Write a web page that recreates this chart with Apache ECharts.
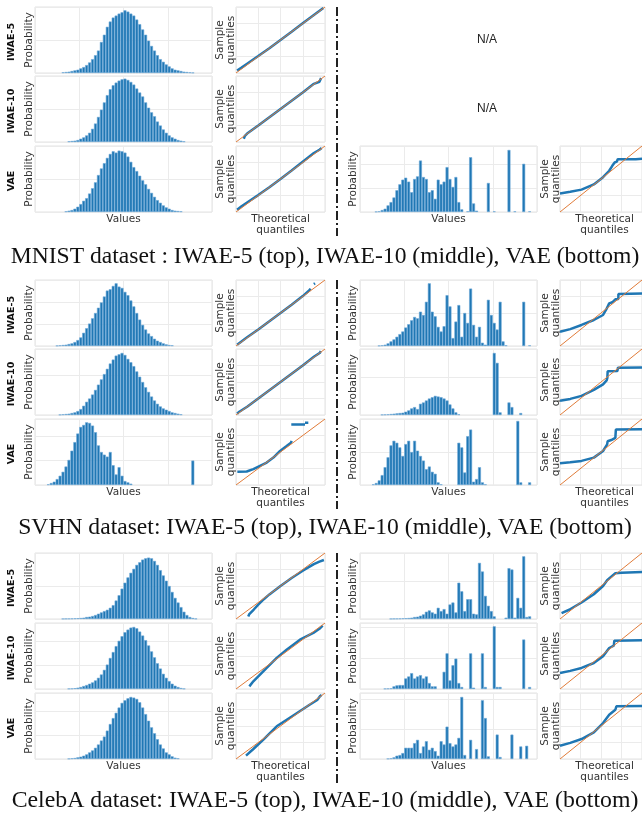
<!DOCTYPE html>
<html>
<head>
<meta charset="utf-8">
<script src="https://cdn.jsdelivr.net/npm/echarts@6/dist/echarts.min.js"></script>
<style>
  html, body { margin: 0; padding: 0; background: #fff; }
  #main { width: 642px; height: 820px; }
</style>
</head>
<body>
<div id="main"></div>
<script>
// ---- data: histogram heights (60 bins, fraction of panel height) ----
const mnistIwae5Hist = [0,0,0,0,0,0,0,0,0,0.01,0.015,0.02,0.03,0.04,0.05,0.07,0.09,0.12,0.16,0.21,0.27,0.34,0.47,0.58,0.7,0.78,0.84,0.87,0.9,0.92,0.95,0.93,0.9,0.87,0.81,0.74,0.66,0.58,0.49,0.41,0.34,0.27,0.21,0.17,0.13,0.1,0.07,0.05,0.04,0.03,0.02,0.015,0.01,0.005]
const mnistIwae10Hist = [0,0,0,0,0,0,0,0,0,0,0,0.01,0.015,0.02,0.03,0.05,0.07,0.1,0.14,0.2,0.28,0.38,0.49,0.6,0.71,0.8,0.86,0.9,0.93,0.95,0.96,0.94,0.91,0.87,0.81,0.75,0.69,0.6,0.52,0.45,0.39,0.31,0.25,0.19,0.14,0.1,0.07,0.05,0.03,0.02,0.01]
const mnistVaeHist = [0,0,0,0,0,0,0,0,0,0,0.01,0.02,0.03,0.05,0.08,0.12,0.17,0.21,0.28,0.36,0.45,0.56,0.66,0.74,0.82,0.88,0.92,0.9,0.93,0.92,0.9,0.84,0.76,0.68,0.62,0.55,0.48,0.42,0.35,0.29,0.23,0.18,0.14,0.1,0.07,0.05,0.03,0.02,0.015,0.01]
const mnistVaeHistR = [0,0,0,0,0,0.005,0.01,0.03,0.05,0.1,0.15,0.22,0.33,0.42,0.49,0.52,0.46,0.3,0.5,0.54,0.78,0.53,0.5,0.3,0.33,0.2,0.49,0.42,0.46,0.68,0.5,0.38,0.53,0.15,0.04,0,0.01,0.83,0.13,0.02,0,0,0,0.44,0,0.01,0,0,0,0,0.94,0,0.01,0,0,0.73,0,0.01]

const svhnIwae5Hist = [0,0,0,0,0,0,0,0.005,0.01,0.015,0.02,0.03,0.04,0.06,0.09,0.13,0.2,0.27,0.34,0.42,0.5,0.58,0.66,0.75,0.84,0.86,0.91,0.95,0.9,0.88,0.82,0.77,0.69,0.6,0.5,0.4,0.32,0.25,0.19,0.15,0.11,0.08,0.06,0.04,0.025,0.015,0.01]
const svhnIwae10Hist = [0,0,0,0,0,0,0,0,0.005,0.01,0.015,0.02,0.03,0.04,0.06,0.09,0.14,0.2,0.25,0.31,0.38,0.46,0.54,0.62,0.7,0.78,0.84,0.9,0.92,0.94,0.91,0.85,0.8,0.74,0.66,0.58,0.5,0.42,0.35,0.28,0.22,0.17,0.13,0.1,0.08,0.06,0.04,0.03,0.02,0.01]
const svhnVaeHist = [0,0,0,0,0.01,0.03,0.05,0.09,0.14,0.2,0.28,0.38,0.52,0.65,0.78,0.88,0.91,0.95,0.94,0.9,0.8,0.6,0.5,0.46,0.43,0.5,0.3,0.16,0.27,0.14,0.06,0.04,0.02,0,0,0,0,0,0,0,0,0,0,0,0,0,0,0,0,0,0,0,0,0.37]
const svhnIwae5HistR = [0,0,0,0,0,0,0.005,0.01,0.02,0.04,0.07,0.1,0.14,0.18,0.22,0.28,0.33,0.39,0.44,0.42,0.52,0.47,0.67,0.95,0.52,0.45,0.29,0.22,0.3,0.77,0.6,0.12,0.37,0.62,0.14,0.5,0.35,0.87,0.32,0.14,0.29,0.05,0.02,0.7,0.47,0.35,0.25,0.67,0.07,0.01,0,0,0,0,0,0.67,0,0.01]
const svhnIwae10HistR = [0,0,0,0,0,0,0,0.005,0.008,0.01,0.015,0.02,0.025,0.03,0.035,0.05,0.07,0.1,0.12,0.09,0.17,0.19,0.22,0.25,0.27,0.29,0.28,0.27,0.25,0.22,0.16,0.1,0.04,0.01,0,0,0,0,0,0,0,0,0,0,0,0.94,0.79,0.04,0,0,0.19,0.12,0,0,0.03]
const svhnVaeHistR = [0,0,0,0,0.01,0.03,0.07,0.15,0.27,0.42,0.6,0.67,0.64,0.57,0.44,0.62,0.67,0.5,0.67,0.52,0.44,0.37,0.24,0.28,0.2,0.17,0.04,0.01,0,0,0,0,0,0.64,0.57,0.19,0.74,0.84,0.05,0.09,0.27,0.04,0.01,0,0,0,0,0,0,0,0,0,0,0.97,0.04,0,0,0.04]

const celebaIwae5Hist = [0,0,0,0,0,0,0,0,0,0.003,0.005,0.006,0.008,0.01,0.012,0.015,0.02,0.03,0.035,0.045,0.06,0.08,0.1,0.12,0.14,0.17,0.21,0.28,0.36,0.46,0.55,0.63,0.7,0.76,0.82,0.86,0.9,0.92,0.93,0.92,0.88,0.82,0.74,0.66,0.58,0.5,0.41,0.32,0.25,0.18,0.11,0.06,0.03,0.015,0.005]
const celebaIwae10Hist = [0,0,0,0,0,0,0,0,0,0,0,0.005,0.008,0.012,0.02,0.03,0.045,0.06,0.08,0.1,0.13,0.17,0.22,0.29,0.37,0.47,0.56,0.65,0.73,0.8,0.86,0.9,0.93,0.94,0.92,0.87,0.81,0.74,0.66,0.57,0.48,0.39,0.31,0.23,0.17,0.12,0.08,0.05,0.03,0.015,0.005]
const celebaVaeHist = [0,0,0,0,0,0,0,0,0,0,0,0.005,0.01,0.015,0.025,0.035,0.05,0.07,0.1,0.13,0.17,0.22,0.28,0.34,0.43,0.53,0.62,0.7,0.78,0.85,0.89,0.92,0.94,0.93,0.91,0.86,0.78,0.68,0.58,0.48,0.39,0.3,0.22,0.16,0.1,0.07,0.04,0.02,0.01]
const celebaIwae5HistR = [0,0,0,0,0,0,0,0,0,0,0.003,0.005,0.006,0.008,0.01,0.012,0.015,0.02,0.03,0.035,0.05,0.07,0.11,0.13,0.1,0.08,0.17,0.12,0.15,0.08,0.22,0.25,0.1,0.55,0.42,0.12,0.3,0.3,0.08,0.07,0.85,0.72,0.35,0.2,0.12,0.04,0,0,0,0.02,0.77,0.75,0.02,0.32,0.17,0.95,0.03,0.04]
const celebaIwae10HistR = [0,0,0,0,0,0,0,0,0.005,0.008,0.01,0.04,0.055,0.06,0.06,0.16,0.19,0.24,0.16,0.19,0.21,0.16,0.19,0.09,0.04,0.04,0,0,0.26,0.54,0.13,0.36,0.46,0.09,0.03,0,0,0.54,0.02,0,0,0.54,0.03,0,0,0.95,0.03,0.03,0,0,0,0,0,0,0,0.75,0,0.03]
const celebaVaeHistR = [0,0,0,0,0,0,0,0,0,0.005,0.01,0.025,0.05,0.06,0.09,0.17,0.17,0.17,0.24,0.29,0.09,0.19,0.27,0.14,0.17,0.12,0.05,0.27,0.22,0.49,0.24,0.19,0.22,0.32,0.94,0.06,0,0.29,0,0.15,0,0.89,0.62,0.04,0,0,0.37,0.03,0,0,0,0.37,0,0,0.19,0,0.2]

// ---- data: QQ plots, [theoretical, sample] ----
const refLine = [[-4, -4], [4, 4]]
const mnistIwae5QQ = [[-3.9,-3.7],[-3.5,-3.35],[-3,-2.88],[-2,-1.95],[-1,-1],[0,0],[1,1],[2,2.02],[3,3.04],[3.85,3.88]]
const mnistIwae10QQ = [[-3.3,-3.6],[-3.2,-3.25],[-3,-2.98],[-2,-2],[-1,-1],[0,0],[1,1],[2,2],[3,3.05],[3.5,3.3],[3.6,3.6],[3.65,3.75]]
const mnistVaeQQ = [[-3.9,-3.72],[-3.5,-3.3],[-3,-2.85],[-2,-1.95],[-1,-1],[0,0],[1,1.02],[2,2.1],[3,3.15],[3.5,3.55],[3.7,3.75]]
const mnistVaeQQR = [[-4,-1.77],[-3,-1.55],[-1.9,-1.29],[-0.7,-0.66],[0.2,0.22],[0.8,1.0],[1.1,1.6],[1.33,2.0],[1.55,2.1],[1.63,2.4],[3.4,2.4],[4,2.45]]
const svhnIwae5QQ = [[-3.9,-3.85],[-3,-2.95],[-2,-2],[-1,-1],[0,0],[1,1],[2,2.05],[2.6,2.75],[2.7,2.95],[2.9,'-'],[3.0,3.5],[3.1,3.6]]
const svhnIwae10QQ = [[-3.9,-3.85],[-3.7,-3.6],[-3,-3],[-2,-2],[0,0],[2,2],[3,3.05],[3.55,3.55],[3.62,3.75]]
const svhnVaeQQ = [[-3.88,-2.4],[-3.04,-2.36],[-2.44,-2.08],[-1.84,-1.68],[-1.24,-1.28],[-0.64,-0.68],[-0.04,0.12],[0.55,0.72],[0.94,1.12],[1.0,1.35],[1.02,'-'],[0.97,3.32],[2.2,3.32],[2.22,'-'],[2.2,3.55],[2.5,3.55]]
const svhnIwae5QQR = [[-4,-2.27],[-3,-1.95],[-1.9,-1.45],[-0.7,-0.85],[0.2,-0.24],[0.5,0.4],[0.8,1.17],[1.1,1.3],[1.4,1.66],[1.69,1.7],[1.7,2.3],[4,2.35]]
const svhnIwae10QQR = [[-4,-2.28],[-3,-2.05],[-1.9,-1.68],[-0.7,-0.96],[0.2,-0.28],[0.55,0.2],[0.62,0.5],[0.65,1.3],[1.6,1.32],[1.65,1.72],[4,1.75]]
const svhnVaeQQR = [[-4,-1.36],[-3,-1.25],[-1.9,-1.08],[-0.7,-0.68],[0.2,0.12],[0.6,0.92],[0.65,1.3],[1.0,1.45],[1.4,1.72],[1.45,2.72],[4,2.75]]
const celebaIwae5QQ = [[-2.9,-3.7],[-2.8,-3.4],[-2.4,-2.85],[-2,-2.25],[-1.5,-1.6],[-1,-1.02],[0,0],[1,0.97],[2,1.85],[2.5,2.25],[3,2.65],[3.5,2.95],[3.9,3.15]]
const celebaIwae10QQ = [[-2.8,-3.68],[-2.44,-3.07],[-1.84,-2.26],[-1.24,-1.45],[-0.34,-0.24],[0.55,0.77],[1.75,1.98],[2.95,2.79],[3.5,3.3],[3.79,3.68]]
const celebaVaeQQ = [[-3.1,-3.6],[-2.44,-2.79],[-1.54,-1.66],[-0.34,-0.04],[1.15,1.28],[2.65,2.6],[3.3,3.15],[3.55,3.6],[3.7,3.78]]
const celebaIwae5QQR = [[-3.85,-3.28],[-3.1,-2.88],[-1.9,-2.0],[-0.7,-1.0],[0.2,0],[0.6,0.7],[0.65,0.85],[1.2,1.35],[1.4,1.55],[2,1.62],[4,1.7]]
const celebaIwae10QQR = [[-4,-2.06],[-3,-1.8],[-1.9,-1.45],[-0.7,-0.85],[0.2,-0.04],[0.8,0.97],[1.25,1.25],[1.3,1.86],[4,1.9]]
const celebaVaeQQR = [[-4,-2.39],[-3,-2.05],[-1.9,-1.58],[-0.7,-0.78],[0.2,0.36],[0.8,1.37],[1.4,1.97],[1.5,2.38],[4,2.42]]

// ---- labels ----
const rowNames = ['IWAE-5', 'IWAE-10', 'VAE']
const captions = [
  'MNIST dataset : IWAE-5 (top), IWAE-10 (middle), VAE (bottom)',
  'SVHN dataset: IWAE-5 (top), IWAE-10 (middle), VAE (bottom)',
  'CelebA dataset: IWAE-5 (top), IWAE-10 (middle), VAE (bottom)'
]

// group -> rows -> [leftHist, leftQQ, rightHist, rightQQ]  (null = N/A)
const groups = [
  [[mnistIwae5Hist, mnistIwae5QQ, null, null],
   [mnistIwae10Hist, mnistIwae10QQ, null, null],
   [mnistVaeHist, mnistVaeQQ, mnistVaeHistR, mnistVaeQQR]],
  [[svhnIwae5Hist, svhnIwae5QQ, svhnIwae5HistR, svhnIwae5QQR],
   [svhnIwae10Hist, svhnIwae10QQ, svhnIwae10HistR, svhnIwae10QQR],
   [svhnVaeHist, svhnVaeQQ, svhnVaeHistR, svhnVaeQQR]],
  [[celebaIwae5Hist, celebaIwae5QQ, celebaIwae5HistR, celebaIwae5QQR],
   [celebaIwae10Hist, celebaIwae10QQ, celebaIwae10HistR, celebaIwae10QQR],
   [celebaVaeHist, celebaVaeQQ, celebaVaeHistR, celebaVaeQQR]]
]
// horizontal grid spacing of each histogram (left, right)
const histYInt = [
  [[0.5, 0.5], [0.5, 0.5], [0.5, 0.36]],
  [[0.333, 0.5], [0.6, 0.565], [0.37, 0.5]],
  [[0.5, 0.57], [0.36, 0.47], [0.36, 0.45]]
]

// ---- layout ----
const rowTops = [[7, 76, 146], [280, 349, 419], [553, 623, 693]]
const captionY = [257, 528, 801]
const panelH = 66
const histW = 177
const qqW = 89
const colX = [35, 236, 360, 560]
const BLUE = '#1f77b4'
const BAR_EDGE = '#6ba8d6'
const ORANGE = '#e07b39'
const GRID_LINE = '#ebebeb'
const LABEL_FONT = 'DejaVu Sans'

const grids = [], xAxes = [], yAxes = [], series = [], graphics = []

function hiddenAxis(gridIndex, min, max, interval) {
  return {
    type: 'value', gridIndex, min, max, interval,
    axisLine: { show: false }, axisTick: { show: false }, axisLabel: { show: false },
    splitLine: { show: true, lineStyle: { color: GRID_LINE, width: 1 } }
  }
}

function addGrid(left, top, width) {
  grids.push({
    left, top, width, height: panelH, show: true,
    borderColor: '#e2e2e2', borderWidth: 1, backgroundColor: '#fff'
  })
  return grids.length - 1
}

function addHist(left, top, values, yInt) {
  const gi = addGrid(left, top, histW)
  xAxes.push(hiddenAxis(gi, 0, 60, 15))
  yAxes.push(hiddenAxis(gi, 0, 1, yInt))
  // empty bins are left out so no edge line is drawn along the baseline
  const bins = []
  values.forEach((v, k) => { if (v > 0) bins.push([k + 0.5, v]) })
  series.push({
    type: 'bar', xAxisIndex: gi, yAxisIndex: gi,
    data: bins,
    barWidth: histW / 60,
    itemStyle: { color: BLUE, borderColor: BAR_EDGE, borderWidth: 0.6 },
    silent: true
  })
}

function addQQ(left, top, pts) {
  const gi = addGrid(left, top, qqW)
  xAxes.push(hiddenAxis(gi, -4, 4, 2))
  yAxes.push(hiddenAxis(gi, -4, 4, 2))
  series.push({
    type: 'line', xAxisIndex: gi, yAxisIndex: gi, data: pts,
    symbol: 'none', lineStyle: { color: BLUE, width: 2.5 }, silent: true, z: 2
  })
  series.push({
    type: 'line', xAxisIndex: gi, yAxisIndex: gi, data: refLine,
    symbol: 'none', lineStyle: { color: ORANGE, width: 1 }, silent: true, z: 3
  })
}

function addText(text, x, y, opts) {
  graphics.push(Object.assign({
    type: 'text', x, y, silent: true,
    style: Object.assign({
      text, fill: '#333', fontFamily: LABEL_FONT, fontSize: 10.5,
      align: 'center', verticalAlign: 'middle'
    }, opts.style || {})
  }, opts.rotate ? { rotation: Math.PI / 2 } : {}))
}

const measureCtx = document.createElement('canvas').getContext('2d')
function fitFont(text, width, family) {
  measureCtx.font = '100px ' + family
  return Math.round(1000 * width / measureCtx.measureText(text).width) / 10
}

groups.forEach((rows, g) => {
  rows.forEach((panels, r) => {
    const top = rowTops[g][r]
    const mid = top + panelH / 2
    addText(rowNames[r], 12, mid + 2, { rotate: true, style: { fontWeight: 'bold', fill: '#111', fontSize: 9.5 } })
    addText('Probability', 29, mid, { rotate: true })
    addHist(colX[0], top, panels[0], histYInt[g][r][0])
    addText('Sample', 220, mid, { rotate: true })
    addText('quantiles', 231, mid, { rotate: true })
    addQQ(colX[1], top, panels[1])
    if (panels[2]) {
      addText('Probability', 353, mid, { rotate: true })
      addHist(colX[2], top, panels[2], histYInt[g][r][1])
      addText('Sample', 545, mid, { rotate: true })
      addText('quantiles', 556, mid, { rotate: true })
      addQQ(colX[3], top, panels[3])
    } else {
      addText('N/A', 487, mid, { style: { fontFamily: 'Liberation Sans', fontSize: 12, fill: '#222' } })
    }
  })
  const bottom = rowTops[g][2] + panelH
  addText('Values', colX[0] + histW / 2, bottom + 7, {})
  addText('Theoretical', colX[1] + qqW / 2, bottom + 7, {})
  addText('quantiles', colX[1] + qqW / 2, bottom + 18, {})
  if (groups[g][2][2]) {
    addText('Values', colX[2] + histW / 2, bottom + 7, {})
    addText('Theoretical', colX[3] + qqW / 2, bottom + 7, {})
    addText('quantiles', colX[3] + qqW / 2, bottom + 18, {})
  }
  // dash-dot separator
  graphics.push({
    type: 'line', silent: true,
    shape: { x1: 337, y1: rowTops[g][0], x2: 337, y2: bottom + 24 },
    style: { stroke: '#222', lineWidth: 2, lineDash: [9, 3, 2, 3] }
  })
  const capFamily = 'Liberation Serif'
  const capWidth = g === 1 ? 614 : 628
  addText(captions[g], 325, captionY[g], {
    style: { fontFamily: capFamily, fontSize: fitFont(captions[g], capWidth, capFamily), fill: '#111' }
  })
})

const chart = echarts.init(document.getElementById('main'), null, { renderer: 'canvas' })
chart.setOption({
  animation: false,
  backgroundColor: '#fff',
  grid: grids,
  xAxis: xAxes,
  yAxis: yAxes,
  series: series,
  graphic: graphics
})
</script>
</body>
</html>
